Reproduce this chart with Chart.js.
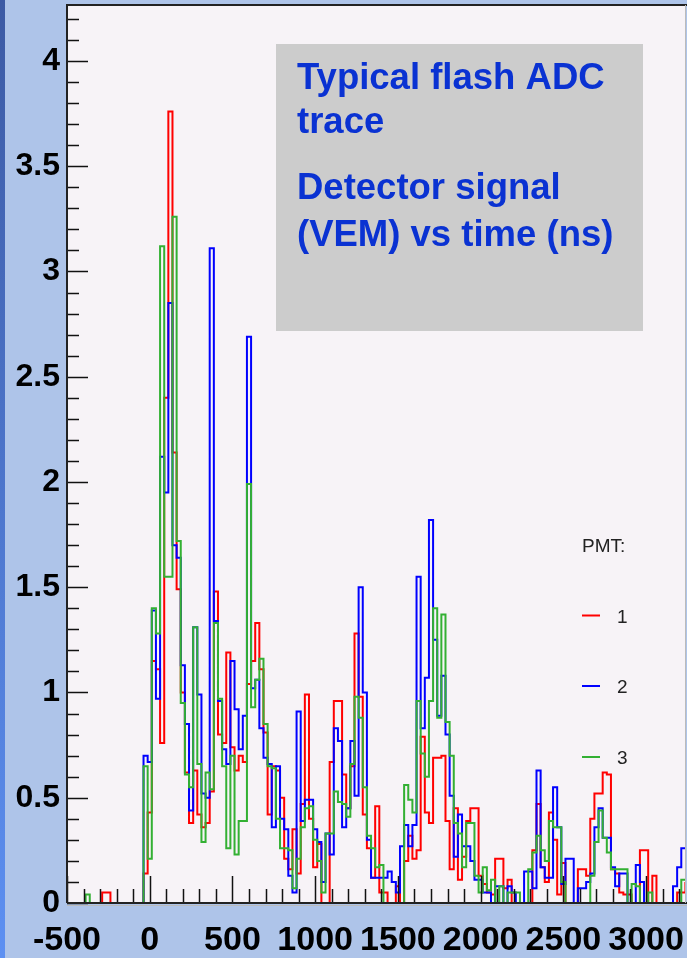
<!DOCTYPE html>
<html>
<head>
<meta charset="utf-8">
<script src="https://cdn.jsdelivr.net/npm/chart.js@4.4.0/dist/chart.umd.min.js"></script>
<style>
  html, body { margin: 0; padding: 0; background: #aec4e9; }
  canvas { display: block; }
</style>
</head>
<body>
<canvas id="trace" width="687" height="958"></canvas>
<script>
// FADC trace, 25 ns bins, first bin starts at -512.5 ns
const binWidth = 25;
const firstBinEdge = -512.5;

// PMT 1 (red)
const pmt1 = [
  0, 0, 0, 0, 0, 0, 0, 0, 0, 0.05, 0.05, 0, 0, 0, 0, 0, 0, 0, 0,
  0.14, 0.43, 1.15, 1.11, 0.76, 2.40, 3.76, 2.14, 1.49, 1.00,
  0.62, 0.38, 0.63, 0.42, 0.36, 0.38, 0.53, 1.48, 0.80, 0.76,
  1.19, 0.74, 0.63, 0.70, 0.67, 1.04, 1.15, 1.33, 1.11, 0.81,
  0.42, 0.65, 0.63, 0.50, 0.21, 0.16, 0.35, 0.14, 0.47, 0.99,
  0.40, 0.17, 0.28, 0, 0, 0.67, 0.96, 0.96, 0.61, 0.45,
  0.65, 1.28, 0.98, 0.42, 0.26, 0.12, 0.46, 0.05, 0.05, 0,
  0, 0.08, 0, 0.20, 0.32, 0.21, 0.25, 0.79, 0.43, 0.38,
  0.69, 0.69, 0.70, 0.39, 0.16, 0.45, 0.11, 0.22, 0.39, 0.45,
  0.45, 0.13, 0.09, 0.05, 0.04, 0.21, 0.21, 0.07, 0.11, 0,
  0, 0, 0, 0, 0.25, 0.47, 0.17, 0.10, 0.43, 0.30,
  0.04, 0.19, 0, 0, 0, 0.16, 0.16, 0.13, 0.40, 0.52,
  0.52, 0.62, 0.61, 0.16, 0.14, 0.05, 0.04, 0.04, 0, 0,
  0.25, 0.25, 0, 0.13, 0, 0, 0, 0, 0, 0.05,
  0.05, 0.10
];

// PMT 2 (blue)
const pmt2 = [
  0, 0, 0, 0, 0, 0, 0, 0, 0, 0, 0, 0, 0, 0, 0, 0, 0, 0, 0,
  0.70, 0.67, 1.39, 0.97, 2.12, 1.95, 2.85, 1.70, 1.64, 1.13,
  0.85, 0.44, 1.31, 0.99, 0.52, 0.50, 3.11, 1.34, 0.96, 0.73,
  0.66, 1.15, 0.92, 0.73, 0.89, 2.69, 1.02, 1.06, 0.83, 0.69,
  0.66, 0.36, 0.65, 0.40, 0.35, 0.13, 0.05, 0.91, 0.39, 0.49,
  0.49, 0.35, 0.29, 0.10, 0.33, 0.23, 0.83, 0.77, 0.36, 0.45,
  0.77, 0.51, 1.50, 1.00, 0.30, 0.12, 0.12, 0.12, 0.12, 0.15,
  0.10, 0.05, 0.27, 0.37, 0.27, 0.37, 1.55, 0.83, 1.07, 1.82,
  1.25, 0.89, 1.08, 0.80, 0.51, 0.22, 0.42, 0.27, 0.27, 0.20,
  0.11, 0.11, 0.05, 0.05, 0, 0.08, 0.08, 0, 0.08, 0.05,
  0, 0, 0.15, 0.15, 0.07, 0.63, 0.17, 0.12, 0.12, 0.55,
  0.36, 0.09, 0.21, 0.21, 0, 0.07, 0.07, 0.10, 0.14, 0.36,
  0.45, 0.31, 0.31, 0.17, 0.08, 0.14, 0.14, 0, 0, 0.18,
  0.10, 0, 0, 0, 0, 0, 0, 0, 0.08, 0.17,
  0.26, 0.26
];

// PMT 3 (green)
const pmt3 = [
  0, 0, 0, 0, 0, 0.04, 0, 0, 0, 0, 0, 0, 0, 0, 0, 0, 0, 0, 0,
  0.65, 0.21, 1.40, 1.28, 3.12, 1.55, 1.55, 3.26, 1.72, 0.95,
  0.61, 0.55, 1.31, 0.66, 0.29, 0.62, 0.54, 1.33, 0.97, 0.65,
  0.26, 0.70, 0.23, 0.39, 0.39, 1.99, 0.93, 1.06, 1.16, 0.85,
  0.65, 0.64, 0.40, 0.26, 0.26, 0.25, 0.07, 0.21, 0.36, 0.45,
  0.46, 0.30, 0.20, 0.05, 0.33, 0.33, 0.53, 0.48, 0.47, 0.41,
  0.66, 0.98, 0.88, 0.55, 0.32, 0.26, 0.17, 0.18, 0, 0,
  0, 0, 0, 0.56, 0.49, 0.43, 0.96, 0.71, 0.60, 0.96,
  1.40, 0.88, 1.37, 0.86, 0.70, 0.38, 0.33, 0.17, 0.38, 0.38,
  0.13, 0.05, 0.17, 0.06, 0.11, 0, 0.08, 0, 0.05, 0.05,
  0.05, 0, 0, 0.16, 0.24, 0.32, 0.25, 0.20, 0.39, 0.36,
  0.36, 0.10, 0, 0, 0, 0, 0, 0, 0.13, 0.29,
  0.44, 0.31, 0.24, 0.16, 0.16, 0.16, 0.16, 0, 0.09, 0.08,
  0, 0, 0.05, 0, 0, 0, 0, 0, 0, 0,
  0.11, 0.11
];

const xTickLabels = [-500, 0, 500, 1000, 1500, 2000, 2500, 3000];
const yTickLabels = [0, 0.5, 1, 1.5, 2, 2.5, 3, 3.5, 4];
const xMin = -500, xMax = 3235;
const yMin = 0, yMax = 4.266;

const titleLines = ['Typical flash ADC', 'trace', 'Detector signal', '(VEM) vs time (ns)'];
const legendTitle = 'PMT:';

// histogram -> step points (left bin edges + closing edge)
function toSteps(values) {
  const pts = values.map((v, i) => ({ x: firstBinEdge + i * binWidth, y: v }));
  pts.push({ x: firstBinEdge + values.length * binWidth, y: values[values.length - 1] });
  return pts;
}

const rootStyle = {
  id: 'rootStyle',
  beforeDraw(chart) {
    const { ctx, chartArea: a } = chart;
    ctx.save();
    // canvas background
    ctx.fillStyle = '#aec4e9';
    ctx.fillRect(0, 0, chart.width, chart.height);
    const g = ctx.createLinearGradient(0, 0, 0, chart.height);
    g.addColorStop(0, '#3c5aa4');
    g.addColorStop(1, '#5d90f2');
    ctx.fillStyle = g;
    ctx.fillRect(0, 0, 5, chart.height);
    // frame fill
    ctx.fillStyle = '#f7f3f7';
    ctx.fillRect(a.left, a.top, a.right - a.left, a.bottom - a.top);
    // text pave
    ctx.fillStyle = '#cccccc';
    ctx.fillRect(276, 44, 367, 287);
    ctx.fillStyle = '#0a32d2';
    ctx.font = 'bold 36.5px "Liberation Sans", Arial, sans-serif';
    ctx.textBaseline = 'alphabetic';
    const baselines = [89, 133, 199, 246];
    titleLines.forEach((t, i) => ctx.fillText(t, 297, baselines[i]));
    ctx.restore();
  },
  afterDatasetsDraw(chart) {
    const { ctx, chartArea: a, scales } = chart;
    const xs = scales.x, ys = scales.y;
    ctx.save();
    ctx.strokeStyle = '#111';
    ctx.lineWidth = 1.5;
    ctx.beginPath();
    // x ticks (inside, pointing up)
    for (let t = -500; t <= xMax; t += 100) {
      const px = Math.round(xs.getPixelForValue(t)) + 0.5;
      const len = t % 500 === 0 ? 27 : 14;
      ctx.moveTo(px, a.bottom);
      ctx.lineTo(px, a.bottom - len);
    }
    // y ticks (inside, pointing right)
    for (let i = 0; i <= 42; i++) {
      const v = i / 10;
      const py = Math.round(ys.getPixelForValue(v)) + 0.5;
      const len = i % 5 === 0 ? 21 : 12;
      ctx.moveTo(a.left, py);
      ctx.lineTo(a.left + len, py);
    }
    ctx.stroke();
    // frame
    ctx.strokeStyle = '#222';
    ctx.lineWidth = 2;
    ctx.beginPath();
    ctx.moveTo(a.left, a.bottom);
    ctx.lineTo(a.left, a.top);
    ctx.lineTo(chart.width, a.top);
    ctx.moveTo(a.left, a.bottom);
    ctx.lineTo(chart.width, a.bottom);
    ctx.stroke();
    ctx.strokeStyle = '#bbbbbb';
    ctx.lineWidth = 1;
    ctx.beginPath();
    ctx.moveTo(a.right + 0.5, a.top);
    ctx.lineTo(a.right + 0.5, a.bottom);
    ctx.moveTo(a.left, a.bottom + 2.5);
    ctx.lineTo(chart.width, a.bottom + 2.5);
    ctx.stroke();

    // legend
    ctx.fillStyle = '#222';
    ctx.font = '19px "Liberation Sans", Arial, sans-serif';
    ctx.textBaseline = 'alphabetic';
    ctx.fillText(legendTitle, 582, 552);
    const rows = [615.5, 686, 757];
    chart.data.datasets.forEach((ds, i) => {
      ctx.strokeStyle = ds.borderColor;
      ctx.lineWidth = 2;
      ctx.beginPath();
      ctx.moveTo(582, rows[i]);
      ctx.lineTo(600, rows[i]);
      ctx.stroke();
      ctx.fillStyle = '#222';
      ctx.fillText(ds.label, 617, rows[i] + 7);
    });
    ctx.restore();
  }
};

const tickFont = { family: '"Liberation Sans", Arial, sans-serif', weight: 'bold' };

function noMargins(s) {
  s.paddingLeft = 0;
  s.paddingRight = 0;
  s.paddingTop = 0;
  s.paddingBottom = 0;
}

// 'before' in Chart.js holds each value until the next point, i.e. a histogram
// drawn from left bin edges
new Chart(document.getElementById('trace'), {
  type: 'line',
  data: {
    datasets: [
      { label: '1', data: toSteps(pmt1), borderColor: '#ff0000', stepped: 'before', order: 3 },
      { label: '2', data: toSteps(pmt2), borderColor: '#0000ff', stepped: 'before', order: 2 },
      { label: '3', data: toSteps(pmt3), borderColor: '#33b033', stepped: 'before', order: 1 }
    ]
  },
  options: {
    responsive: false,
    animation: false,
    elements: {
      point: { radius: 0 },
      line: { borderWidth: 2, tension: 0, fill: false }
    },
    layout: { padding: { top: 5, right: 2, left: 0, bottom: 0 } },
    plugins: { legend: { display: false }, tooltip: { enabled: false } },
    scales: {
      x: {
        type: 'linear',
        min: xMin,
        max: xMax,
        grid: { display: false, drawTicks: false },
        border: { display: false },
        afterBuildTicks: s => { s.ticks = xTickLabels.map(v => ({ value: v })); },
        afterFit: s => { s.height = 55; noMargins(s); },
        ticks: {
          autoSkip: false,
          maxRotation: 0,
          padding: 17,
          color: '#000',
          font: { ...tickFont, size: 34 },
          callback: v => String(v)
        }
      },
      y: {
        min: yMin,
        max: yMax,
        grid: { display: false, drawTicks: false },
        border: { display: false },
        afterBuildTicks: s => { s.ticks = yTickLabels.map(v => ({ value: v })); },
        afterFit: s => { s.width = 67; noMargins(s); },
        ticks: {
          padding: 7,
          color: '#000',
          font: { ...tickFont, size: 32 },
          callback: v => String(v)
        }
      }
    }
  },
  plugins: [rootStyle]
});
</script>
</body>
</html>
